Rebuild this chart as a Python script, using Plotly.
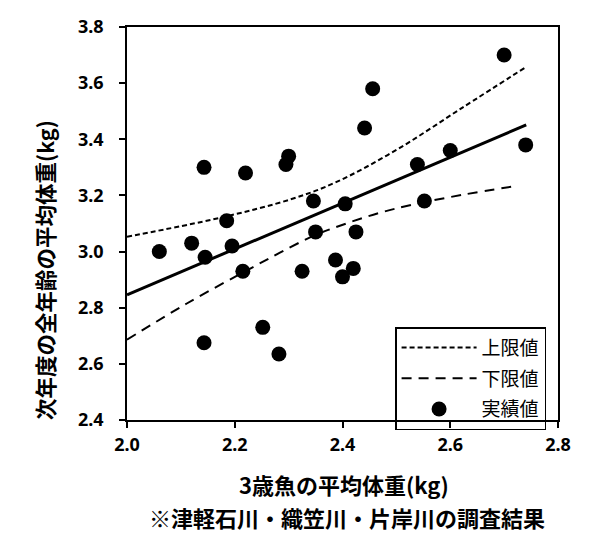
import plotly.graph_objects as go

# Observed data (3歳魚の平均体重 vs 次年度の全年齢の平均体重)
obs_x = [2.70, 2.456, 2.441, 2.143, 2.22, 2.30, 2.295, 2.539, 2.60, 2.74,
         2.346, 2.405, 2.552, 2.185, 2.06, 2.12, 2.145, 2.195, 2.215, 2.35,
         2.425, 2.325, 2.387, 2.42, 2.40, 2.252, 2.143, 2.282]
obs_y = [3.70, 3.58, 3.44, 3.30, 3.28, 3.34, 3.31, 3.31, 3.36, 3.38,
         3.18, 3.17, 3.18, 3.11, 3.00, 3.03, 2.98, 3.02, 2.93, 3.07,
         3.07, 2.93, 2.97, 2.94, 2.91, 2.73, 2.675, 2.635]

# Regression line
reg_x = [2.00, 2.741]
reg_y = [2.846, 3.451]

# Upper limit
up_x = [2.00, 2.172, 2.307, 2.389, 2.50, 2.622, 2.741]
up_y = [3.053, 3.120, 3.188, 3.248, 3.362, 3.512, 3.658]

# Lower limit
lo_x = [2.00, 2.111, 2.234, 2.283, 2.345, 2.407, 2.469, 2.53, 2.622, 2.724]
lo_y = [2.686, 2.815, 2.945, 2.995, 3.055, 3.10, 3.138, 3.167, 3.202, 3.234]

x_ticks = [2.0, 2.2, 2.4, 2.6, 2.8]
y_ticks = [2.4, 2.6, 2.8, 3.0, 3.2, 3.4, 3.6, 3.8]

CJK = "Noto Sans CJK JP"
NUM = "Noto Sans"

fig = go.Figure()
fig.add_trace(go.Scatter(x=reg_x, y=reg_y, mode="lines", showlegend=False,
                         line=dict(color="black", width=3)))
fig.add_trace(go.Scatter(x=up_x, y=up_y, mode="lines", name="上限値", legendgroup="a",
                         line=dict(color="black", width=2, dash="5px,3px", shape="spline")))
fig.add_trace(go.Scatter(x=lo_x, y=lo_y, mode="lines", name="下限値", legendgroup="b",
                         line=dict(color="black", width=2, dash="10px,7px", shape="spline")))
fig.add_trace(go.Scatter(x=obs_x, y=obs_y, mode="markers", name="実績値", legendgroup="c",
                         marker=dict(color="black", size=15)))

axis_common = dict(showgrid=False, zeroline=False, showline=True, linecolor="black",
                   linewidth=1.5, mirror=True, ticks="outside", ticklen=6,
                   tickcolor="black", tickwidth=1.5,
                   tickfont=dict(family=NUM, size=18, color="black", weight="bold"))

fig.update_layout(
    width=613, height=536,
    margin=dict(l=127, r=55, t=27, b=116),
    plot_bgcolor="white", paper_bgcolor="white",
    xaxis=dict(range=[2.0, 2.8], tickvals=x_ticks, ticktext=[f"{v:.1f}" for v in x_ticks],
               ticklabelstandoff=2, **axis_common),
    yaxis=dict(range=[2.4, 3.8], tickvals=y_ticks, ticktext=[f"{v:.1f}" for v in y_ticks],
               ticklabelstandoff=12, **axis_common),
    legend=dict(x=0.622, y=0.236, xanchor="left", yanchor="top",
                bgcolor="rgba(0,0,0,0)", bordercolor="black", borderwidth=1.5,
                font=dict(family=CJK, size=19, color="black"),
                traceorder="grouped", tracegroupgap=3, itemwidth=75,
                entrywidth=172),
    annotations=[
        dict(text="3歳魚の平均体重(kg)", xref="paper", yref="paper", x=0.503, y=-0.162,
             showarrow=False, xanchor="center", yanchor="middle",
             font=dict(family=CJK, size=22, color="black", weight="bold")),
        dict(text="※津軽石川・織笠川・片岸川の調査結果", xref="paper", yref="paper", x=0.51, y=-0.246,
             showarrow=False, xanchor="center", yanchor="middle",
             font=dict(family=CJK, size=22, color="black", weight="bold")),
        dict(text="次年度の全年齢の平均体重(kg)", xref="paper", yref="paper", x=-0.190, y=0.382,
             showarrow=False, xanchor="center", yanchor="middle", textangle=-90,
             font=dict(family=CJK, size=21.5, color="black", weight="bold")),
    ],
)

fig.write_html("out.html")
